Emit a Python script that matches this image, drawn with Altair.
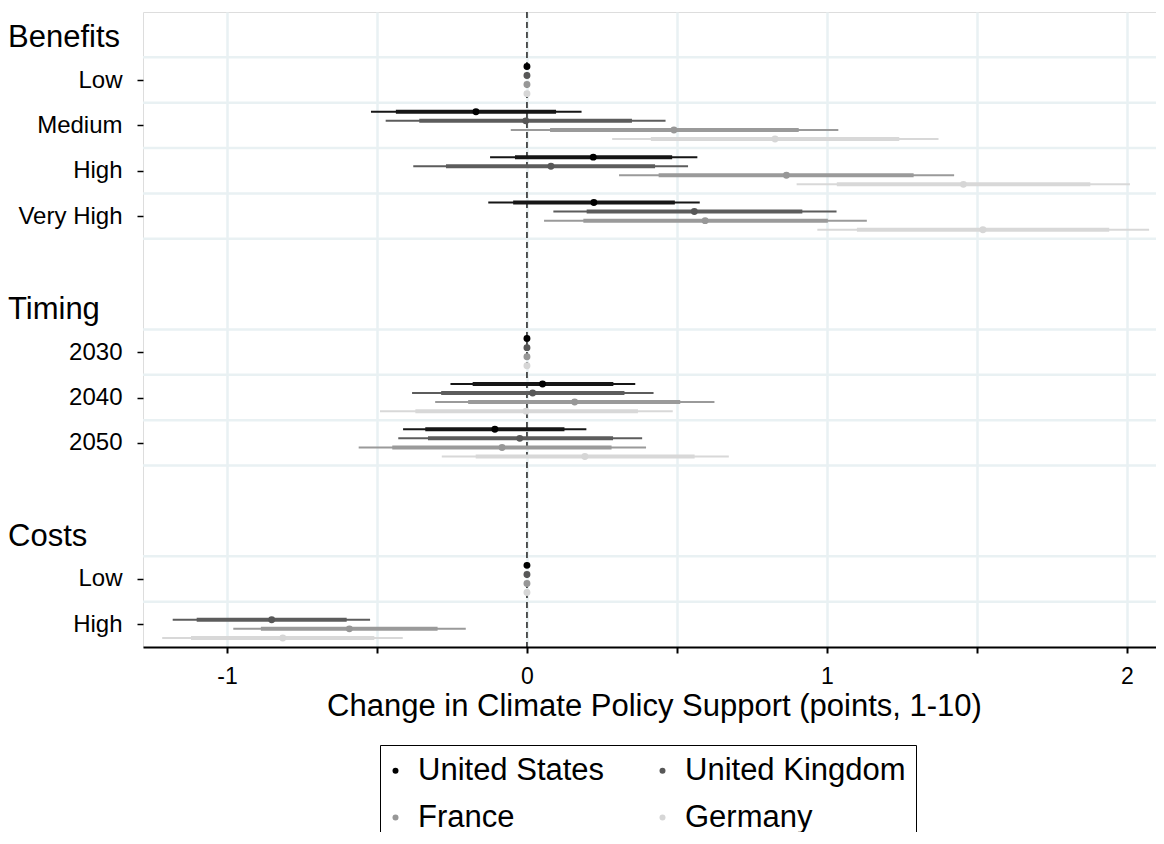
import altair as alt
import pandas as pd

# ---------------- data ----------------
countries = ["United States", "United Kingdom", "France", "Germany"]
point_colors = ["#000000", "#575757", "#979797", "#d6d6d6"]
line_colors = ["#161616", "#5c5c5c", "#9a9a9a", "#d8d8d8"]

level_labels = ["Low", "Medium", "High", "Very High", "2030", "2040", "2050", "Low", "High"]
level_rows = [1, 2, 3, 4, 7, 8, 9, 12, 13]
headers = ["Benefits", "Timing", "Costs"]
header_rows = [0, 6, 11]
gridline_rows = [0.5, 1.5, 2.5, 3.5, 4.5, 6.5, 7.5, 8.5, 9.5, 11.5, 12.5]
country_offsets = [-0.3, -0.1, 0.1, 0.3]

# United States
us_est = [0, -0.170, 0.221, 0.223, 0, 0.052, -0.107, 0, None]
us_lo_outer = [0, -0.520, -0.123, -0.129, 0, -0.255, -0.413, 0, None]
us_hi_outer = [0, 0.182, 0.568, 0.576, 0, 0.361, 0.198, 0, None]
us_lo_inner = [0, -0.437, -0.040, -0.046, 0, -0.181, -0.339, 0, None]
us_hi_inner = [0, 0.097, 0.484, 0.493, 0, 0.288, 0.125, 0, None]

# United Kingdom
uk_est = [0, -0.004, 0.080, 0.558, 0, 0.019, -0.024, 0, -0.851]
uk_lo_outer = [0, -0.471, -0.379, 0.088, 0, -0.383, -0.429, 0, -1.181]
uk_hi_outer = [0, 0.462, 0.537, 1.032, 0, 0.422, 0.384, 0, -0.523]
uk_lo_inner = [0, -0.359, -0.270, 0.199, 0, -0.286, -0.330, 0, -1.101]
uk_hi_inner = [0, 0.350, 0.427, 0.918, 0, 0.325, 0.287, 0, -0.601]

# France
fr_est = [0, 0.490, 0.865, 0.594, 0, 0.159, -0.083, 0, -0.592]
fr_lo_outer = [0, -0.054, 0.307, 0.057, 0, -0.306, -0.561, 0, -0.979]
fr_hi_outer = [0, 1.038, 1.424, 1.133, 0, 0.625, 0.397, 0, -0.204]
fr_lo_inner = [0, 0.077, 0.439, 0.188, 0, -0.196, -0.449, 0, -0.887]
fr_hi_inner = [0, 0.906, 1.289, 1.003, 0, 0.511, 0.282, 0, -0.298]

# Germany
de_est = [0, 0.827, 1.455, 1.520, 0, -0.003, 0.193, 0, -0.814]
de_lo_outer = [0, 0.284, 0.899, 0.968, 0, -0.490, -0.284, 0, -1.216]
de_hi_outer = [0, 1.372, 2.010, 2.074, 0, 0.486, 0.673, 0, -0.414]
de_lo_inner = [0, 0.413, 1.033, 1.100, 0, -0.372, -0.171, 0, -1.120]
de_hi_inner = [0, 1.241, 1.878, 1.941, 0, 0.370, 0.559, 0, -0.509]

series = [
    (us_est, us_lo_outer, us_hi_outer, us_lo_inner, us_hi_inner),
    (uk_est, uk_lo_outer, uk_hi_outer, uk_lo_inner, uk_hi_inner),
    (fr_est, fr_lo_outer, fr_hi_outer, fr_lo_inner, fr_hi_inner),
    (de_est, de_lo_outer, de_hi_outer, de_lo_inner, de_hi_inner),
]

rows = []
for ci, (c, s) in enumerate(zip(countries, series)):
    for li, r in enumerate(level_rows):
        if s[0][li] is None:
            continue
        rows.append({
            "country": c,
            "hex": line_colors[ci],
            "pos": r + country_offsets[ci],
            "est": s[0][li],
            "lo_o": s[1][li], "hi_o": s[2][li],
            "lo_i": s[3][li], "hi_i": s[4][li],
        })
df = pd.DataFrame(rows)
df_ci = df[df["lo_o"] != df["hi_o"]]

grid_df = pd.DataFrame({"pos": gridline_rows})
head_df = pd.DataFrame({"label": headers, "pos": header_rows})
zero_df = pd.DataFrame({"x": [0]})

# ---------------- encodings ----------------
FONT = "Liberation Sans"
GRID = "#e9f1f3"
NBSP2 = "\u00a0\u00a0"

label_expr = "''"
for r, lab in zip(reversed(level_rows), reversed(level_labels)):
    label_expr = f"datum.value == {r} ? '{lab}' : ({label_expr})"

yscale = alt.Scale(domain=[-0.5, 13.5], reverse=True, nice=False, zero=False)
yaxis = alt.Axis(values=level_rows, labelExpr=label_expr, grid=False, domain=False,
                 ticks=True, tickColor="black", tickWidth=1.5, tickSize=6,
                 labelFontSize=24, labelPadding=15, labelColor="black", labelFont=FONT,
                 title=None)

xscale = alt.Scale(domain=[-1.28, 2.097], nice=False, zero=False)
xaxis = alt.Axis(values=[-1, -0.5, 0, 0.5, 1, 1.5, 2],
                 labelExpr="datum.value % 1 == 0 ? toString(datum.value) : ''",
                 grid=True, gridColor=GRID, gridWidth=2.5,
                 domainColor="black", domainWidth=2,
                 tickColor="black", tickWidth=2, tickSize=6,
                 labelFontSize=23, labelPadding=12, labelColor="black", labelFont=FONT,
                 title="Change in Climate Policy Support (points, 1-10)",
                 titleFontSize=31, titleFontWeight="normal", titleColor="black", titleFont=FONT,
                 titleBaseline="alphabetic", titleY=68, titleX=511, titleAlign="center")

def Y():
    return alt.Y("pos:Q", scale=yscale, axis=yaxis)

def X(field):
    return alt.X(field, type="quantitative", scale=xscale, axis=xaxis)

hgrid = alt.Chart(grid_df).mark_rule(color=GRID, strokeWidth=2.5).encode(y=Y())

zero = alt.Chart(zero_df).mark_rule(color="black", strokeWidth=1.3, strokeDash=[6, 4]).encode(
    x=X("x"))

thin = alt.Chart(df_ci).mark_rule(strokeWidth=2).encode(
    x=X("lo_o"), x2="hi_o", y=Y(), color=alt.Color("hex:N", scale=None))

thick = alt.Chart(df_ci).mark_rule(strokeWidth=4).encode(
    x=X("lo_i"), x2="hi_i", y=Y(), color=alt.Color("hex:N", scale=None))

points = alt.Chart(df).mark_circle(size=48, opacity=1).encode(
    x=X("est"), y=Y(),
    color=alt.Color("country:N",
                    scale=alt.Scale(domain=countries, range=point_colors),
                    legend=alt.Legend(title=None, orient="none", legendX=237, legendY=733,
                                      direction="horizontal", columns=2,
                                      symbolType="circle", symbolSize=36,
                                      symbolOffset={"expr": "-10"},
                                      symbolStrokeWidth=0, labelFontSize=31, labelFont=FONT,
                                      labelColor="black", labelOffset=7,
                                      labelLimit=400,
                                      labelExpr="datum.label == 'United Kingdom' ? datum.label + '" + NBSP2 + "' : datum.label",
                                      columnPadding=52, rowPadding=15, padding=10,
                                      strokeColor="black", fillColor="white")))

heads = alt.Chart(head_df).mark_text(align="left", baseline="middle", fontSize=31, dy=3,
                                     color="black", font=FONT).encode(
    x=alt.value(-135), y=Y(), text="label:N")

chart = alt.layer(hgrid, zero, thin, thick, points, heads).properties(
    width=1013, height=635,
    autosize=alt.AutoSizeParams(type="none"),
    padding={"left": 135, "top": 4, "right": 0, "bottom": 185},
).configure_view(stroke=None).configure_legend(strokeWidth=2).configure(font=FONT)

chart.save("out.html", embed_options={"renderer": "svg", "actions": False})
